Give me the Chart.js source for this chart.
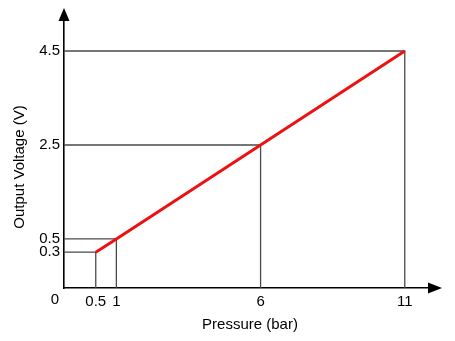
<!DOCTYPE html>
<html>
<head>
<meta charset="utf-8">
<script src="https://cdn.jsdelivr.net/npm/chart.js@4"></script>
<style>
  html, body { margin: 0; padding: 0; background: #fff; }
  #wrap { width: 455px; height: 341px; }
</style>
</head>
<body>
<div id="wrap"><canvas id="chart"></canvas></div>
<script>
// sensor transfer line: pressure in, voltage out
var pressure = [0.5, 1, 6, 11];
var voltage = [0.3, 0.5, 2.5, 4.5];
var xTicks = [0.5, 1, 6, 11];
var yTicks = [0.3, 0.5, 2.5, 4.5];
var xTitle = 'Pressure (bar)';
var yTitle = 'Output Voltage (V)';
var originLabel = '0';

var FONT = '"Liberation Sans", Arial, Helvetica, sans-serif';

// linear axis whose first stretch (below `below`) is drawn wider by `factor`,
// so the small values near the origin stay readable
class StretchedScale extends Chart.LinearScale {
    warp(v) {
        var b = this.options.below, f = this.options.factor;
        return v < b ? v * f : b * f + (v - b);
    }
    getPixelForValue(value) {
        if (value === null || value === undefined) return NaN;
        var lo = this.warp(this.min), hi = this.warp(this.max);
        return this.getPixelForDecimal((this.warp(value) - lo) / (hi - lo));
    }
    getValueForPixel(pixel) {
        var lo = this.warp(this.min), hi = this.warp(this.max);
        var u = lo + this.getDecimalForPixel(pixel) * (hi - lo);
        var b = this.options.below, f = this.options.factor;
        return u < b * f ? u / f : b + (u - b * f);
    }
}
StretchedScale.id = 'stretched';
StretchedScale.defaults = Chart.LinearScale.defaults;
Chart.register(StretchedScale);

var X_MIN = -0.27, X_MAX = 11.84;
var Y_MIN = -0.24, Y_MAX = 5.16;

var points = pressure.map(function (p, i) { return { x: p, y: voltage[i] }; });

// drop lines from each point back to both axes
var guides = pressure.map(function (p, i) {
    return {
        data: [{ x: X_MIN, y: voltage[i] }, { x: p, y: voltage[i] }, { x: p, y: Y_MIN }],
        borderColor: '#4a4a4a',
        borderWidth: 1.3,
        pointRadius: 0,
        fill: false,
        tension: 0
    };
});

var datasets = [{
    label: 'Output',
    data: points,
    borderColor: '#ee1111',
    borderWidth: 3,
    pointRadius: 0,
    fill: false,
    tension: 0
}].concat(guides);

var axisExtras = {
    id: 'axisExtras',
    afterDraw: function (chart) {
        var ctx = chart.ctx;
        var a = chart.chartArea;
        ctx.save();
        ctx.fillStyle = '#000';

        // arrow heads at the ends of both axes
        ctx.beginPath();
        ctx.moveTo(a.left, a.top - 12);
        ctx.lineTo(a.left - 5.5, a.top + 1);
        ctx.lineTo(a.left + 5.5, a.top + 1);
        ctx.closePath();
        ctx.fill();

        ctx.beginPath();
        ctx.moveTo(a.right + 13, a.bottom);
        ctx.lineTo(a.right - 1, a.bottom - 5.5);
        ctx.lineTo(a.right - 1, a.bottom + 5.5);
        ctx.closePath();
        ctx.fill();

        ctx.font = '15px ' + FONT;
        ctx.textAlign = 'center';
        ctx.textBaseline = 'middle';
        ctx.fillText(originLabel, a.left - 9, a.bottom + 12);

        ctx.fillText(xTitle, 250, 325);

        ctx.translate(20, 167);
        ctx.rotate(-Math.PI / 2);
        ctx.fillText(yTitle, 0, 0);
        ctx.restore();
    }
};

var tickFont = { size: 15, family: FONT };

var ctx = document.getElementById('chart');
new Chart(ctx, {
    type: 'line',
    data: { datasets: datasets },
    options: {
        responsive: true,
        maintainAspectRatio: false,
        animation: false,
        layout: { padding: { top: 20, right: 26, left: 0, bottom: 0 } },
        plugins: { legend: { display: false }, tooltip: { enabled: false } },
        scales: {
            x: {
                type: 'stretched',
                below: 1,
                factor: 1.43,
                min: X_MIN,
                max: X_MAX,
                grid: { display: false, drawTicks: false },
                border: { color: '#000', width: 1.6 },
                ticks: { color: '#000', font: tickFont, padding: 5, autoSkip: false, maxRotation: 0 },
                afterBuildTicks: function (s) {
                    s.ticks = xTicks.map(function (v) { return { value: v }; });
                },
                afterFit: function (s) { s.height = 53; }
            },
            y: {
                type: 'stretched',
                below: 0.5,
                factor: 1.41,
                min: Y_MIN,
                max: Y_MAX,
                grid: { display: false, drawTicks: false },
                border: { color: '#000', width: 1.6 },
                ticks: { color: '#000', font: tickFont, padding: 4, autoSkip: false },
                afterBuildTicks: function (s) {
                    s.ticks = yTicks.map(function (v) { return { value: v }; });
                },
                afterFit: function (s) { s.width = 64; }
            }
        }
    },
    plugins: [axisExtras]
});
</script>
</body>
</html>
